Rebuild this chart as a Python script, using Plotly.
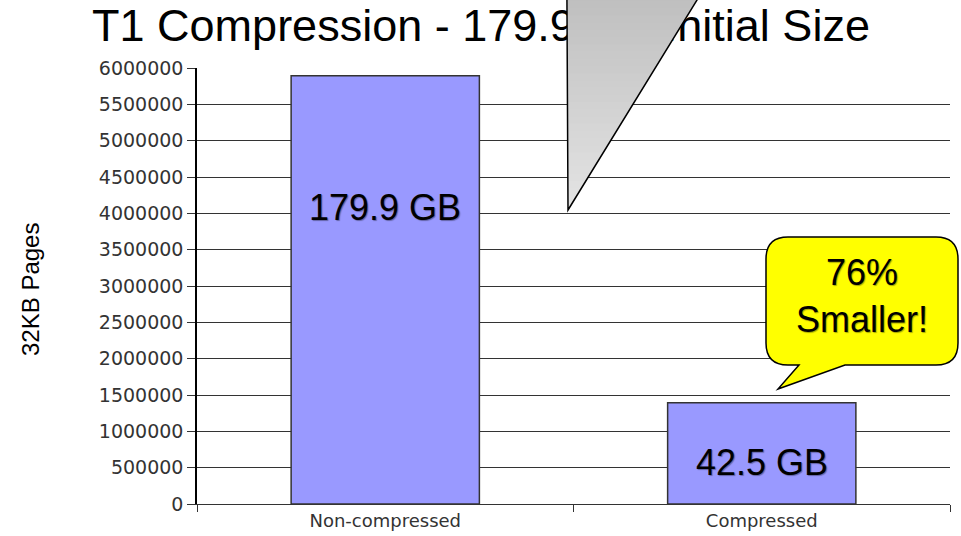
import plotly.graph_objects as go

# ---- data ----
categories = ["Non-compressed", "Compressed"]
pages = [5894963, 1392640]
bar_labels = ["179.9 GB", "42.5 GB"]
y_tick_vals = [0, 500000, 1000000, 1500000, 2000000, 2500000, 3000000,
               3500000, 4000000, 4500000, 5000000, 5500000, 6000000]
y_tick_text = [str(v) for v in y_tick_vals]
title_text = "T1 Compression - 179.9 GB Initial Size"
y_title = "32KB Pages"
callout_text = "76%<br>Smaller!"

# ---- geometry helpers (pixel -> paper) ----
W, H = 961, 536
ML, MR, MT, MB = 197, 11, 68, 32
PW = W - ML - MR
PH = H - MT - MB


def px(x):
    return (x - ML) / PW


def py(y):
    return (H - MB - y) / PH


def path(points, close=True):
    s = "M " + " L ".join(f"{px(x):.5f},{py(y):.5f}" for x, y in points)
    return s + (" Z" if close else "")


ARIAL = "Liberation Sans, Arial, Helvetica, sans-serif"
TICKFONT = "DejaVu Sans, Verdana, sans-serif"

fig = go.Figure()
fig.add_trace(go.Bar(
    x=categories, y=pages, width=0.5,
    marker=dict(color="#9999ff", line=dict(color="#333333", width=1.5)),
    hoverinfo="x+y", showlegend=False,
))

shapes = []
# title as a shape label so the callout triangle can sit on top of it
shapes.append(dict(
    type="rect", xref="paper", yref="paper",
    x0=px(20), x1=px(942), y0=py(44), y1=py(-2),
    line=dict(width=0), fillcolor="rgba(0,0,0,0)",
    label=dict(text=title_text, textposition="middle center",
               font=dict(family=ARIAL, size=45, color="black")),
))

# gray callout triangle with vertical gradient (bands)
ytop, ybot = -6.0, 210.0
xl_top, xr_top, xb = 566.9, 700.7, 568.0
N = 30
c0, c1 = (190, 190, 190), (228, 228, 228)
for i in range(N):
    t0, t1 = i / N, min(1.0, (i + 1) / N + 0.004)
    ya, yb = ytop + t0 * (ybot - ytop), ytop + t1 * (ybot - ytop)
    xla, xlb = xl_top + t0 * (xb - xl_top), xl_top + t1 * (xb - xl_top)
    xra, xrb = xr_top + t0 * (xb - xr_top), xr_top + t1 * (xb - xr_top)
    tm = (t0 + t1) / 2
    col = tuple(int(round(c0[k] + tm * (c1[k] - c0[k]))) for k in range(3))
    shapes.append(dict(
        type="path", xref="paper", yref="paper",
        path=path([(xla, ya), (xra, ya), (xrb, yb), (xlb, yb)]),
        line=dict(width=0), fillcolor=f"rgb{col}",
    ))
shapes.append(dict(
    type="path", xref="paper", yref="paper",
    path=path([(xl_top, ytop), (xb, ybot), (xr_top, ytop)], close=False),
    line=dict(color="black", width=1.5), fillcolor="rgba(0,0,0,0)",
))

# yellow speech bubble
L, R, T, B, r = 766, 958, 237, 365, 22
bubble = (
    f"M {px(L + r):.5f},{py(T):.5f} L {px(R - r):.5f},{py(T):.5f} "
    f"Q {px(R):.5f},{py(T):.5f} {px(R):.5f},{py(T + r):.5f} "
    f"L {px(R):.5f},{py(B - r):.5f} "
    f"Q {px(R):.5f},{py(B):.5f} {px(R - r):.5f},{py(B):.5f} "
    f"L {px(845):.5f},{py(B):.5f} L {px(778):.5f},{py(389):.5f} "
    f"L {px(799):.5f},{py(B):.5f} L {px(L + r):.5f},{py(B):.5f} "
    f"Q {px(L):.5f},{py(B):.5f} {px(L):.5f},{py(B - r):.5f} "
    f"L {px(L):.5f},{py(T + r):.5f} "
    f"Q {px(L):.5f},{py(T):.5f} {px(L + r):.5f},{py(T):.5f} Z"
)
shapes.append(dict(type="path", xref="paper", yref="paper", path=bubble,
                   line=dict(color="black", width=1.5), fillcolor="#ffff00"))

shadow = "1px 1px 1px rgba(0,0,0,0.35)"
label_y = [208, 462]
annotations = []
for cat, lab, ly in zip(categories, bar_labels, label_y):
    annotations.append(dict(
        x=cat, xref="x", y=py(ly), yref="paper", text=lab, showarrow=False,
        xanchor="center", yanchor="middle",
        font=dict(family=ARIAL, size=36, color="black", shadow=shadow),
    ))
annotations.append(dict(
    x=px(862), xref="paper", y=py(296), yref="paper", text=callout_text,
    showarrow=False, xanchor="center", yanchor="middle", align="center",
    font=dict(family=ARIAL, size=36, color="black", shadow=shadow),
))
annotations.append(dict(
    x=px(30), xref="paper", y=py(290), yref="paper", text=y_title,
    showarrow=False, textangle=-90, xanchor="center", yanchor="middle",
    font=dict(family="Liberation Sans Narrow, Arial Narrow, " + ARIAL,
              size=24, color="black"),
))

fig.update_layout(
    width=W, height=H,
    margin=dict(l=ML, r=MR, t=MT, b=MB, pad=0),
    paper_bgcolor="white", plot_bgcolor="white",
    showlegend=False,
    shapes=shapes, annotations=annotations,
    xaxis=dict(
        type="category", range=[-0.5, 1.5], showgrid=False,
        showline=True, linecolor="#333333", linewidth=1,
        ticks="outside", tickson="boundaries", ticklen=7,
        tickcolor="#333333", tickwidth=1,
        tickfont=dict(family=TICKFONT, size=18, color="#333333"),
        automargin=False, fixedrange=True,
    ),
    yaxis=dict(
        range=[0, 6000000], tickvals=y_tick_vals, ticktext=y_tick_text,
        showgrid=True, gridcolor="#333333", gridwidth=1,
        zeroline=False, showline=True, linecolor="black", linewidth=1.5,
        ticks="outside", ticklen=8, tickcolor="#333333", tickwidth=1,
        tickfont=dict(family=TICKFONT, size=19, color="#333333"),
        automargin=False, fixedrange=True,
    ),
)

fig.write_html(
    "out.html",
    config={"displayModeBar": False},
    post_script="document.body.style.margin='0';document.body.style.overflow='hidden';",
)
